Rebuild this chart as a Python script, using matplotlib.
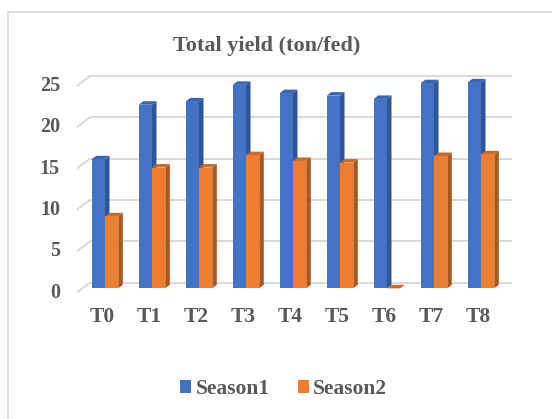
import matplotlib
matplotlib.use("Agg")
import matplotlib.pyplot as plt
from matplotlib.patches import Polygon, Patch
from matplotlib.lines import Line2D
import numpy as np

categories = ["T0", "T1", "T2", "T3", "T4", "T5", "T6", "T7", "T8"]
season1 = [15.6, 22.2, 22.6, 24.6, 23.6, 23.3, 22.9, 24.8, 24.9]
season2 = [8.7, 14.6, 14.6, 16.1, 15.4, 15.2, 0.0, 16.0, 16.2]
yticks = [0, 5, 10, 15, 20, 25]

W, H = 552, 419
font = "Liberation Serif"
txt_col = "#595959"
grid_col = "#d9d9d9"

# pixel layout of the plot area
px_unit = 8.27      # px per y unit
y0_px = 288.3       # bar baseline
cat0_px = 105.0     # centre of first group
cat_step = 47.0     # px between groups
left_px, right_px = 76.7, 512.0
ymin, ymax = -1.5, 26.5

fig = plt.figure(figsize=(W / 100, H / 100), dpi=100)
bot_px = y0_px - ymin * px_unit
top_px = y0_px - ymax * px_unit
ax = fig.add_axes([left_px / W, 1 - bot_px / H, (right_px - left_px) / W, (bot_px - top_px) / H])
ax.set_xlim((left_px - cat0_px) / cat_step, (right_px - cat0_px) / cat_step)
ax.set_ylim(ymin, ymax)
ax.axis("off")

back = 5.6 / px_unit     # back wall offset
front = 4.4 / px_unit    # front edge offset
xb = (90 - cat0_px) / cat_step
xl, xr = ax.get_xlim()

for v in yticks:
    ax.plot([xb, xr], [v + back, v + back], color=grid_col, lw=1.4, zorder=1, solid_capstyle="butt")
    ax.plot([xl, xb], [v - front, v + back], color=grid_col, lw=1.4, zorder=1)
    ax.text((60 - cat0_px) / cat_step, v - front, str(v), ha="right", va="center",
            fontsize=14.5, fontweight="bold", family=font, color=txt_col)

x = np.arange(len(categories))
w = 13.3 / cat_step
dx = 4.5 / cat_step
dy = 3.5 / px_unit


def bars3d(xpos, vals, c_front, c_side, c_top, z):
    ax.bar(xpos, vals, width=w, color=c_front, zorder=z, linewidth=0)
    for xc, h in zip(xpos, vals):
        a, b = xc - w / 2, xc + w / 2
        side = Polygon([(b, 0), (b + dx, dy), (b + dx, h + dy), (b, h)], closed=True,
                       facecolor=c_side, edgecolor="none", zorder=z - 0.1)
        top = Polygon([(a, h), (b, h), (b + dx, h + dy), (a + dx, h + dy)], closed=True,
                      facecolor=c_top, edgecolor="none", zorder=z - 0.1)
        ax.add_patch(side)
        ax.add_patch(top)


bars3d(x - w / 2, season1, "#4472C4", "#2F5597", "#3A65B3", 3)
bars3d(x + w / 2, season2, "#ED7D31", "#A9561F", "#C96A28", 4)

for i, c in enumerate(categories):
    ax.text(i - 0.06, (y0_px - 316.5) / px_unit, c, ha="center", va="center",
            fontsize=15.5, fontweight="bold", family=font, color=txt_col)

fig.text(266.7 / W, 1 - 46 / H, "Total yield (ton/fed)", ha="center", va="center",
         fontsize=16, fontweight="bold", family=font, color=txt_col)

handles = [Patch(facecolor="#4472C4", label="Season1"), Patch(facecolor="#ED7D31", label="Season2")]
leg = fig.legend(handles=handles, loc="center", bbox_to_anchor=(283.8 / W, 1 - 389 / H), ncol=2,
                 frameon=False, handlelength=0.51, handleheight=0.51, handletextpad=0.22,
                 columnspacing=1.27, prop={"family": font, "weight": "bold", "size": 15.5})
for t in leg.get_texts():
    t.set_color(txt_col)

# chart border
fig.add_artist(Line2D([8 / W, 1], [1 - 12 / H, 1 - 12 / H], color=grid_col, lw=1.2))
fig.add_artist(Line2D([8 / W, 8 / W], [1 - 12 / H, 0], color=grid_col, lw=1.2))

fig.savefig("out.png", dpi=100)
